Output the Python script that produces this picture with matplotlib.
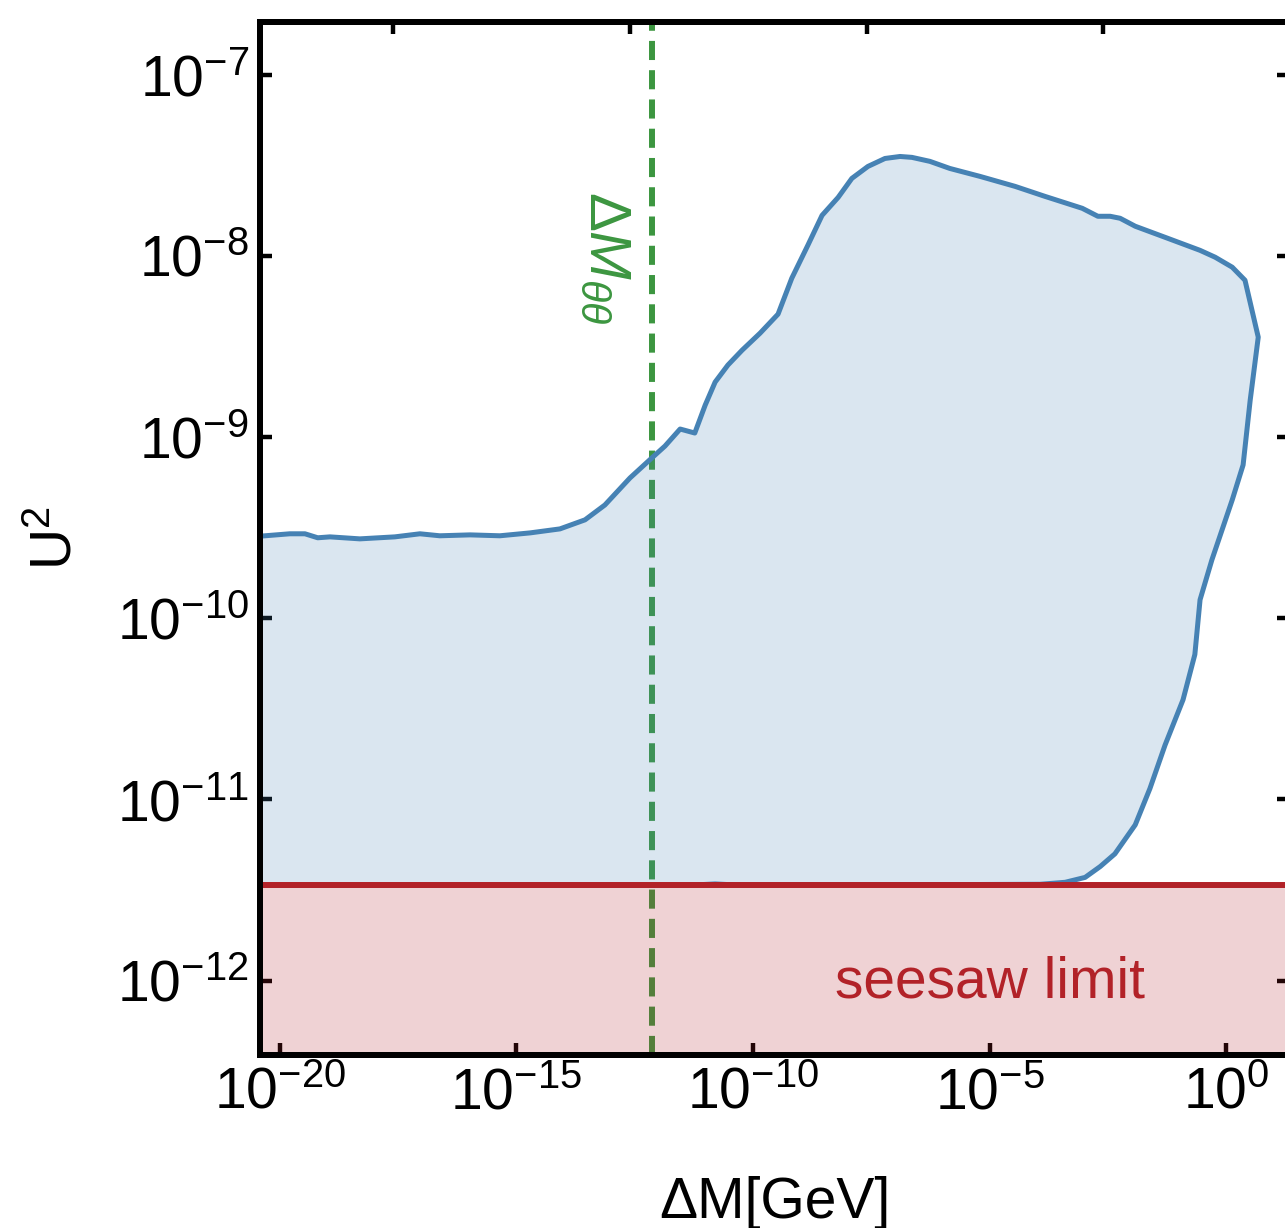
import numpy as np
import matplotlib.pyplot as plt
from matplotlib.ticker import FixedLocator, LogFormatterMathtext, NullLocator, NullFormatter

plt.rcParams['font.family'] = ['Liberation Sans', 'DejaVu Sans']
plt.rcParams['mathtext.fontset'] = 'custom'
plt.rcParams['mathtext.rm'] = 'Liberation Sans'
plt.rcParams['mathtext.it'] = 'Liberation Sans:italic'
plt.rcParams['mathtext.bf'] = 'Liberation Sans:bold'

# contour of the allowed region: log10(dM / GeV) and log10(U^2)
log_dm = [-20.6, -19.79, -19.47, -19.20, -18.94, -18.31, -17.57, -17.04, -16.62,
          -15.98, -15.35, -14.71, -14.08, -13.55, -13.13, -12.60, -12.14, -11.86,
          -11.54, -11.23, -11.01, -10.80, -10.53, -10.23, -9.85, -9.47, -9.18,
          -8.84, -8.54, -8.20, -7.91, -7.57, -7.21, -6.89, -6.64, -6.26, -5.84,
          -5.20, -4.46, -3.83, -3.04, -2.71, -2.45, -2.24, -1.92, -1.29, -0.55,
          -0.23, 0.13, 0.40, 0.68, 0.51, 0.36, 0.13, -0.30, -0.55, -0.66, -0.91,
          -1.29, -1.61, -1.92, -2.35, -2.66, -2.98, -3.40, -3.93,
          -10.2, -10.8, -11.4, -20.6]
log_u2 = [-9.551, -9.534, -9.534, -9.556, -9.551, -9.562, -9.551, -9.534, -9.545,
          -9.540, -9.545, -9.529, -9.507, -9.457, -9.375, -9.226, -9.116, -9.050,
          -8.956, -8.978, -8.824, -8.697, -8.603, -8.521, -8.427, -8.322, -8.124,
          -7.942, -7.777, -7.678, -7.573, -7.507, -7.463, -7.452, -7.457, -7.479,
          -7.518, -7.562, -7.617, -7.672, -7.738, -7.782, -7.782, -7.793, -7.837,
          -7.898, -7.970, -8.008, -8.063, -8.135, -8.449, -8.796, -9.154, -9.347,
          -9.678, -9.898, -10.20, -10.45, -10.70, -10.94, -11.14, -11.30, -11.37,
          -11.43, -11.457, -11.468,
          -11.474, -11.466, -11.474, -11.474]

seesaw_u2 = 3.36e-12        # seesaw lower bound on U^2
dm_thetatheta = 7.2e-13     # dM_theta-theta in GeV

x_ticks = [1e-20, 1e-15, 1e-10, 1e-5, 1e0]
x_ticks_top = [10**-17.6, 10**-12.6, 10**-7.6, 10**-2.6]
y_ticks = [1e-12, 1e-11, 1e-10, 1e-9, 1e-8, 1e-7]

xlim = (10**-20.42, 10**1.33)
ylim = (10**-12.41, 10**-6.71)

blue = '#4682b4'
red = '#b22228'
green = '#3c9640'

fig = plt.figure(figsize=(12.85, 12.28), dpi=100)
ax = fig.add_axes([260/1285, 173/1228, 1029/1285, 1033/1228])
ax.set_xscale('log')
ax.set_yscale('log')

dm = 10**np.array(log_dm)
u2 = 10**np.array(log_u2)

ax.axvline(dm_thetatheta, color=green, lw=4.3, ls=(0, (3.2, 1.7)), zorder=1)
ax.fill(dm, u2, color=blue, alpha=0.2, lw=0, zorder=2)
ax.plot(dm, u2, color=blue, lw=3.6, zorder=3, solid_joinstyle='round')
ax.fill_between([1e-25, 1e5], 1e-14, seesaw_u2, color=red, alpha=0.2, lw=0, zorder=2)
ax.axhline(seesaw_u2, color=red, lw=4.3, zorder=4)

ax.text(1e-5, 10**-12.09, 'seesaw limit', color=red, fontsize=41,
        ha='center', va='baseline')
ax.text(10**-13.12, 10**-7.64, r'$\Delta M_{\theta\theta}$', color=green, fontsize=42,
        rotation=270, ha='center', va='top')

ax.set_xlim(*xlim)
ax.set_ylim(*ylim)
ax.xaxis.set_major_locator(FixedLocator(x_ticks))
ax.yaxis.set_major_locator(FixedLocator(y_ticks))
ax.xaxis.set_major_formatter(LogFormatterMathtext())
ax.yaxis.set_major_formatter(LogFormatterMathtext())
ax.xaxis.set_minor_locator(NullLocator())
ax.yaxis.set_minor_locator(NullLocator())
ax.tick_params(which='major', direction='in', length=8.6, width=3.2,
               labelsize=41, top=False, right=True, pad=8)

# top axis carries its own tick positions, no labels
ax_top = ax.twiny()
ax_top.set_xscale('log')
ax_top.set_xlim(*xlim)
ax_top.xaxis.set_major_locator(FixedLocator(x_ticks_top))
ax_top.xaxis.set_minor_locator(NullLocator())
ax_top.xaxis.set_major_formatter(NullFormatter())
ax_top.tick_params(direction='in', length=8.6, width=3.2)

for a in (ax, ax_top):
    for s in a.spines.values():
        s.set_linewidth(4.3)

ax.set_xlabel(r'ΔM[GeV]', fontsize=41)
ax.set_ylabel(r'U$^2$', fontsize=41)
ax.xaxis.set_label_coords(0.5, -0.117)
ax.yaxis.set_label_coords(-0.172, 0.5)

fig.savefig('out.png', dpi=100)
